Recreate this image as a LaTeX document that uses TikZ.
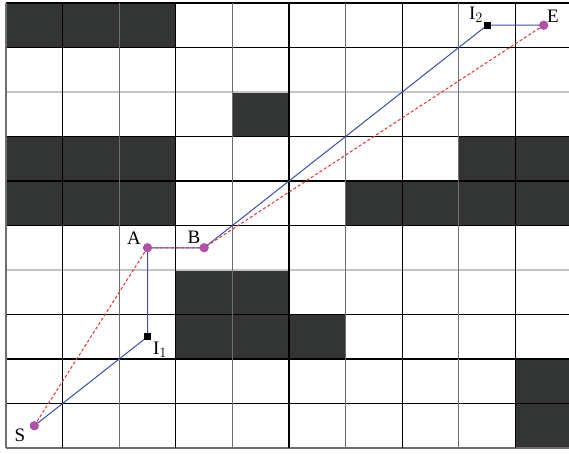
\documentclass[tikz,border=0pt]{standalone}
\usepackage{fontspec}
\setmainfont{Liberation Serif}
\definecolor{cellfill}{HTML}{333535}
\definecolor{dotcol}{HTML}{B24FA6}
\definecolor{bluecol}{HTML}{3B4DB0}
\definecolor{redcol}{HTML}{E5332E}
\definecolor{gridgray}{HTML}{6E6E6E}
\definecolor{gridlight}{HTML}{C4C4C4}
\tikzset{
  waypt/.style={circle,fill=dotcol,inner sep=0pt,minimum size=9pt},
  interpt/.style={rectangle,fill=black,inner sep=0pt,minimum size=7pt},
  lab/.style={font=\fontsize{19}{19}\selectfont,inner sep=0pt},
  bluepath/.style={draw=bluecol,line width=1pt},
  redpath/.style={draw=redcol,line width=1pt,dash pattern=on 3pt off 2.2pt},
}
\begin{document}
\begin{tikzpicture}[x=1pt,y=1pt]
\useasboundingbox (0,0) rectangle (569,453);
\clip (0,0) rectangle (569,453);
\fill[white] (0,0) rectangle (569,453);
\foreach \c/\r in {0/0,1/0,2/0,4/2,0/3,1/3,2/3,8/3,9/3,0/4,1/4,2/4,6/4,7/4,8/4,9/4,3/6,4/6,3/7,4/7,5/7,9/8,9/9}
  \fill[cellfill] ({6+56.6*\c},{450-44.5*(\r+1)}) rectangle ++(56.6,44.5);
% horizontal grid lines
\foreach \j in {0,1,3,4,5,7,8,9}
  \draw[black,line width=1.2pt] (6,{450-44.5*\j}) -- (575,{450-44.5*\j});
\foreach \j in {2,6}
  \draw[gridlight,line width=1.2pt] (6,{450-44.5*\j}) -- (575,{450-44.5*\j});
\draw[gridgray,line width=1.2pt] (6,5) -- (575,5);
% vertical grid lines
\foreach \i in {0,2,4,6,8,10}
  \draw[gridgray,line width=1.2pt] ({6+56.6*\i},5) -- ({6+56.6*\i},450);
\foreach \i in {1,3,5,7,9}
  \draw[black,line width=1.2pt] ({6+56.6*\i},5) -- ({6+56.6*\i},450);
% points
\node[waypt] (S) at (34.3,27.25) {};
\node[waypt] (A) at (147.5,205.25) {};
\node[waypt] (B) at (204.1,205.25) {};
\node[waypt] (E) at (543.7,427.75) {};
\node[interpt] (I1) at (147.5,116.25) {};
\node[interpt] (I2) at (487.1,427.75) {};
% paths
\draw[bluepath] (S.center) -- (I1.center) -- (A.center) -- (B.center) -- (I2.center) -- (E.center);
\draw[redpath] (S.center) -- (A.center) -- (B.center) -- (E.center);
\node[waypt] at (S) {};
\node[waypt] at (A) {};
\node[waypt] at (B) {};
\node[waypt] at (E) {};
\node[interpt] at (I1) {};
\node[interpt] at (I2) {};
% labels
\node[lab] (lS) at (20,18) {S};
\node[lab] (lA) at (134,215) {A};
\node[lab] (lB) at (194,216) {B};
\node[lab] (lE) at (553,437) {E};
\node[lab] (lI1) at (160,103) {I$_1$};
\node[lab] (lI2) at (476,438) {I$_2$};
\end{tikzpicture}
\end{document}
